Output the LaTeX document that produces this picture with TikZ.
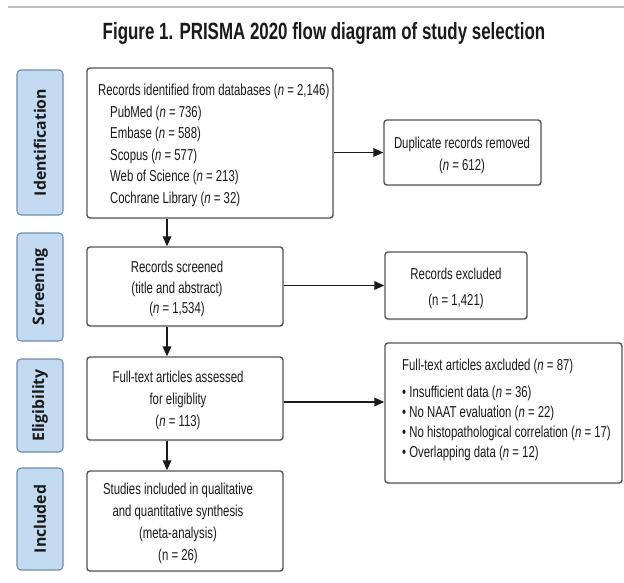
\documentclass[tikz,border=0pt]{standalone}
\usepackage{fontspec}
\setmainfont{Liberation Sans}[FakeStretch=0.72]
\newfontfamily\sidefont{Open Sans}
\usetikzlibrary{arrows.meta,shadows}

\definecolor{sidefill}{HTML}{C3DBF1}
\definecolor{sideborder}{HTML}{6F8CB0}
\definecolor{boxborder}{HTML}{555555}
\definecolor{ink}{HTML}{1A1A1A}
\definecolor{rule}{HTML}{BDBDBD}

\begin{document}
\begin{tikzpicture}[x=1pt,y=-1pt,
  sidebox/.style={draw=sideborder, fill=sidefill, line width=1.1pt, rounded corners=4pt,
    inner sep=0pt, rotate=90, minimum height=46pt, text=ink,
    font=\sidefont\bfseries\fontsize{15.8}{17}\selectfont},
  flowbox/.style={draw=boxborder, fill=white, line width=1.4pt, rounded corners=3pt,
    inner sep=0pt, drop shadow={opacity=0.12, shadow xshift=1pt, shadow yshift=-1.5pt}},
  txt/.style={inner sep=0pt, text=ink, align=center, font=\fontsize{15.8}{21.6}\selectfont},
  arr/.style={-{Triangle[length=10pt,width=8.5pt]}, line width=1.9pt, draw=ink}
]
\useasboundingbox (0,0) rectangle (624,582);
\fill[white] (0,0) rectangle (624,582);

% top rule and title
\coordinate (rl) at (8,7);
\coordinate (rr) at (624,7);
\draw[rule, line width=2pt] (rl) -- (rr);
\node[inner sep=0pt, text=ink, font=\bfseries\fontsize{23.5}{26}\selectfont] (title) at (324,33)
  {Figure 1. PRISMA 2020 flow diagram of study selection};

% side labels
\node[sidebox, minimum width=145pt] (sid) at (40,142.5) {Identification};
\node[sidebox, minimum width=108pt] (ssc) at (40,287) {Screening};
\node[sidebox, minimum width=93pt] (sel) at (40,405.5) {Eligibility};
\node[sidebox, minimum width=102pt] (sin) at (40,519) {Included};

% main boxes
\node[flowbox, minimum width=246pt, minimum height=150pt] (b1) at (210,143) {};
\node[flowbox, minimum width=196pt, minimum height=79pt] (b2) at (185,286.5) {};
\node[flowbox, minimum width=196pt, minimum height=83pt] (b3) at (185,398.5) {};
\node[flowbox, minimum width=196pt, minimum height=100pt] (b4) at (185,521) {};

% side boxes
\node[flowbox, minimum width=157pt, minimum height=65pt] (dup) at (462.5,152.5) {};
\node[flowbox, minimum width=142pt, minimum height=67pt] (exc) at (456,285.5) {};
\node[flowbox, minimum width=237pt, minimum height=140pt] (ft) at (503.5,413) {};

% texts
\node[txt, align=left, anchor=west] (t1) at (98,145.5)
  {Records identified from databases (\textit{n} = 2,146)\\
   \hspace*{12pt}PubMed (\textit{n} = 736)\\
   \hspace*{12pt}Embase (\textit{n} = 588)\\
   \hspace*{12pt}Scopus (\textit{n} = 577)\\
   \hspace*{12pt}Web of Science (\textit{n} = 213)\\
   \hspace*{12pt}Cochrane Library (\textit{n} = 32)};
\node[txt, font=\fontsize{15.8}{20.5}\selectfont] (t2) at (177,289)
  {Records screened\\(title and abstract)\\(\textit{n} = 1,534)};
\node[txt, font=\fontsize{15.8}{22}\selectfont] (t3) at (178,400.5)
  {Full-text articles assessed\\for eligiblity\\(\textit{n} = 113)};
\node[txt, font=\fontsize{15.8}{22}\selectfont] (t4) at (178,523.5)
  {Studies included in qualitative\\and quantitative synthesis\\(meta-analysis)\\(n = 26)};
\node[txt, font=\fontsize{15.8}{22}\selectfont] (td) at (462,155.5)
  {Duplicate records removed\\(\textit{n} = 612)};
\node[txt, font=\fontsize{15.8}{26}\selectfont] (te) at (456,288)
  {Records excluded\\(n = 1,421)};
\node[txt, align=left, anchor=west, font=\fontsize{15.8}{20}\selectfont] (tf) at (402,410)
  {Full-text articles axcluded (\textit{n} = 87)\\[7pt]
   \textbullet\ Insufficient data (\textit{n} = 36)\\
   \textbullet\ No NAAT evaluation (\textit{n} = 22)\\
   \textbullet\ No histopathological correlation (\textit{n} = 17)\\
   \textbullet\ Overlapping data (\textit{n} = 12)};

% connectors
\coordinate (ax) at (167,0);
\draw[arr] (b1.south -| ax) -- (b2.north -| ax);
\draw[arr] (b2.south -| ax) -- (b3.north -| ax);
\draw[arr] (b3.south -| ax) -- (b4.north -| ax);
\draw[arr] (b1.east |- dup.west) -- (dup.west);
\draw[arr] (b2.east |- exc.west) -- (exc.west);
\coordinate (ay) at (0,402);
\draw[arr] (b3.east |- ay) -- (ft.west |- ay);
\end{tikzpicture}
\end{document}
